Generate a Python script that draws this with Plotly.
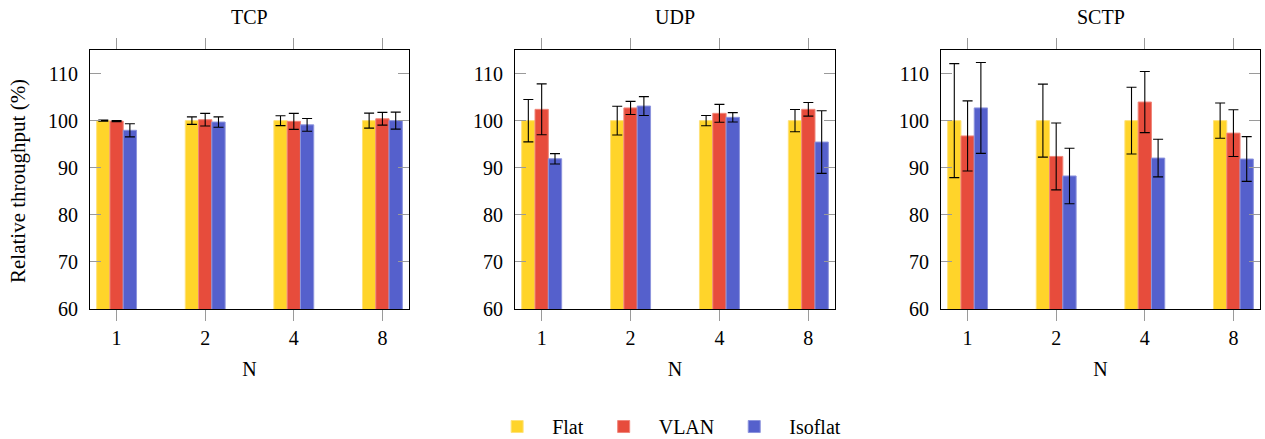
import plotly.graph_objects as go

W, H = 1265, 439

categories = ["1", "2", "4", "8"]
panels = ["TCP", "UDP", "SCTP"]
series = ["Flat", "VLAN", "Isoflat"]
colors = ["#FFD42A", "#E74C3C", "#5560CC"]
edge_colors = ["#FFE27A", "#F0867A", "#8C94DD"]

# values per panel / series over categories
tcp_flat = [100.0, 100.0, 100.0, 100.0]
tcp_flat_err = [0.1, 0.8, 1.05, 1.6]
tcp_vlan = [99.9, 100.2, 99.85, 100.4]
tcp_vlan_err = [0.1, 1.35, 1.7, 1.35]
tcp_iso = [97.95, 99.7, 99.1, 100.0]
tcp_iso_err = [1.4, 1.1, 1.35, 1.8]

udp_flat = [100.0, 100.0, 100.0, 100.0]
udp_flat_err = [4.5, 3.05, 1.1, 2.35]
udp_vlan = [102.4, 102.7, 101.55, 102.4]
udp_vlan_err = [5.4, 1.4, 1.9, 1.45]
udp_iso = [91.9, 103.1, 100.7, 95.45]
udp_iso_err = [1.1, 2.0, 1.0, 6.65]

sctp_flat = [100.0, 100.0, 100.0, 100.0]
sctp_flat_err = [12.1, 7.75, 7.1, 3.75]
sctp_vlan = [96.75, 92.4, 103.95, 97.35]
sctp_vlan_err = [7.45, 7.1, 6.5, 4.95]
sctp_iso = [102.7, 88.25, 92.05, 91.85]
sctp_iso_err = [9.65, 5.9, 4.0, 4.75]

data = {
    "TCP": [(tcp_flat, tcp_flat_err), (tcp_vlan, tcp_vlan_err), (tcp_iso, tcp_iso_err)],
    "UDP": [(udp_flat, udp_flat_err), (udp_vlan, udp_vlan_err), (udp_iso, udp_iso_err)],
    "SCTP": [(sctp_flat, sctp_flat_err), (sctp_vlan, sctp_vlan_err), (sctp_iso, sctp_iso_err)],
}

y_ticks = [60, 70, 80, 90, 100, 110]

FONT = "'Liberation Serif', 'Times New Roman', Times, 'DejaVu Serif', serif"
FS = 20
px_domains = [(90, 409), (515, 835), (941, 1260)]
y_dom = [1 - 309 / H, 1 - 50 / H]

fig = go.Figure()
for pi, panel in enumerate(panels):
    ax = "" if pi == 0 else str(pi + 1)
    for si, name in enumerate(series):
        vals, errs = data[panel][si]
        fig.add_trace(go.Bar(
            x=categories, y=vals, name=name,
            xaxis="x" + ax, yaxis="y" + ax,
            marker=dict(color=colors[si], line=dict(color=edge_colors[si], width=1)),
            error_y=dict(type="data", array=errs, visible=True, color="black",
                         thickness=1.1, width=5),
            offsetgroup=str(si), legendgroup=name, showlegend=(pi == 0),
        ))
    d0, d1 = px_domains[pi]
    fig.layout["xaxis" + ax] = dict(
        domain=[d0 / W, d1 / W], type="category", range=[-0.3, 3.3],
        anchor="y" + ax, ticks="outside", ticklen=11, tickcolor="#9a9a9a",
        mirror="allticks", showline=True, linecolor="black", linewidth=1.2,
        showgrid=False, tickfont=dict(family=FONT, size=FS, color="black"),
        ticklabelstandoff=0,
        title=dict(text="N", font=dict(family=FONT, size=FS, color="black"), standoff=13),
        fixedrange=True,
    )
    fig.layout["yaxis" + ax] = dict(
        domain=y_dom, range=[60, 115], anchor="x" + ax,
        tickvals=y_ticks, ticks="inside", ticklen=11, tickcolor="#9a9a9a",
        mirror="allticks", showline=True, linecolor="black", linewidth=1.2,
        showgrid=False, zeroline=False, ticklabelstandoff=7,
        tickfont=dict(family=FONT, size=FS, color="black"),
    )
    fig.add_annotation(
        x=(d0 + d1) / 2 / W, y=1 - 17 / H, xref="paper", yref="paper",
        text=panel, showarrow=False, xanchor="center", yanchor="middle",
        font=dict(family=FONT, size=FS, color="black"),
    )

fig.add_annotation(
    x=18 / W, y=1 - 181 / H, xref="paper", yref="paper",
    text="Relative throughput (%)", textangle=-90, showarrow=False,
    xanchor="center", yanchor="middle",
    font=dict(family=FONT, size=21, color="black"),
)

fig.update_layout(
    width=W, height=H, margin=dict(l=0, r=0, t=0, b=0, autoexpand=False),
    font=dict(family=FONT, size=FS, color="black"),
    paper_bgcolor="white", plot_bgcolor="white",
    barmode="group", bargap=0.55, bargroupgap=0,
    legend=dict(orientation="h", x=0.525, xanchor="center", y=-0.016, yanchor="bottom",
                font=dict(family=FONT, size=FS, color="black"), itemwidth=60),
)

fig.write_html("out.html")
